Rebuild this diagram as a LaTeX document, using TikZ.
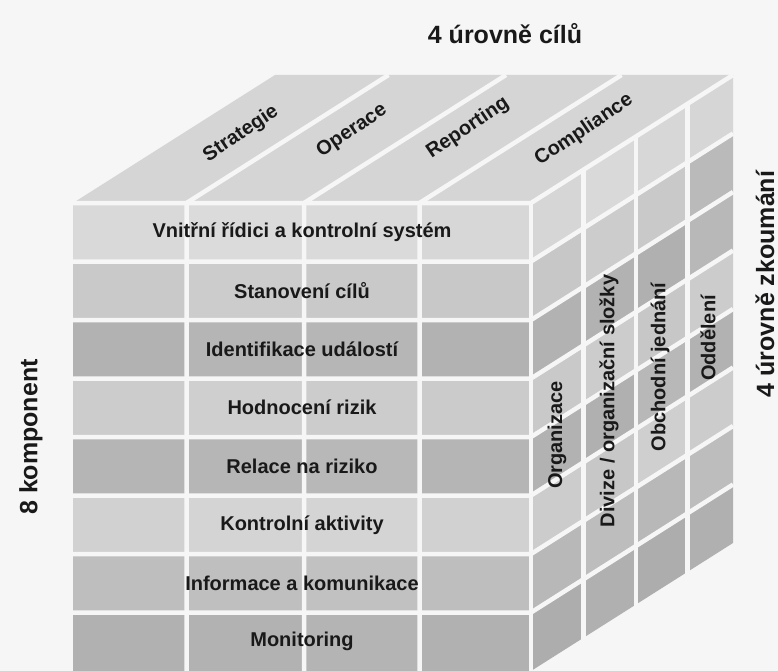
\documentclass[tikz,border=0pt]{standalone}
\usepackage{fontspec}
\setmainfont{Liberation Sans}
\definecolor{paper}{gray}{0.965}
\definecolor{topface}{gray}{0.835}
\definecolor{ink}{gray}{0.1}
\begin{document}
\begin{tikzpicture}[x=1pt,y=-1pt,
  gap/.style={draw=paper,line width=4.5pt},
  rowlabel/.style={text=ink,font=\bfseries\fontsize{20}{22}\selectfont,inner sep=0pt},
  sidelabel/.style={rowlabel,rotate=90},
  toplabel/.style={rowlabel,rotate=34},
  axislabel/.style={text=ink,font=\bfseries\fontsize{25}{28}\selectfont,inner sep=0pt}]
\useasboundingbox (0,0) rectangle (778,671);
\fill[paper] (0,0) rectangle (778,671);

% geometry: front face x-boundaries, row height, depth vector (202,-128)
\def\fx{{73,186.5,304,419.5,531}}
\def\dt{{0,0.26,0.52,0.775,1}}
\def\rh{58.5}

% top face
\fill[topface] (73,203) -- (531,203) -- (733,75) -- (275,75) -- cycle;

% front face cells
\foreach \row/\vals in {0/{.85,.86,.855,.845},1/{.79,.80,.79,.785},2/{.70,.71,.715,.70},3/{.80,.81,.80,.795},4/{.71,.715,.72,.71},5/{.82,.83,.83,.82},6/{.745,.75,.755,.745},7/{.695,.70,.705,.695}}{
  \foreach \g [count=\c from 0] in \vals {
    \pgfmathsetmacro\xa{\fx[\c]}
    \pgfmathsetmacro\xb{\fx[\c+1]}
    \pgfmathsetmacro\ya{203+\rh*\row}
    \pgfmathsetmacro\yb{203+\rh*(\row+1)}
    \definecolor{cellc}{gray}{\g}
    \fill[cellc] (\xa,\ya) rectangle (\xb,\yb);
  }
}

% right face cells
\foreach \row/\vals in {0/{.84,.85,.845,.84},1/{.78,.80,.79,.73},2/{.70,.70,.69,.72},3/{.79,.80,.78,.80},4/{.70,.69,.72,.70},5/{.80,.78,.81,.80},6/{.72,.74,.72,.74},7/{.68,.69,.68,.69}}{
  \foreach \g [count=\c from 0] in \vals {
    \pgfmathsetmacro\ta{\dt[\c]}
    \pgfmathsetmacro\tb{\dt[\c+1]}
    \pgfmathsetmacro\ya{203+\rh*\row}
    \pgfmathsetmacro\yb{203+\rh*(\row+1)}
    \definecolor{cellc}{gray}{\g}
    \fill[cellc] (531+202*\ta,\ya-128*\ta) -- (531+202*\tb,\ya-128*\tb)
      -- (531+202*\tb,\yb-128*\tb) -- (531+202*\ta,\yb-128*\ta) -- cycle;
  }
}

% white gaps between the cells
\foreach \k in {0,...,7}{
  \pgfmathsetmacro\yk{203+\rh*\k}
  \draw[gap] (73,\yk) -- (531,\yk) -- (733,\yk-128);
}
\foreach \x in {186.5,304,419.5}{
  \draw[gap] (\x+202,75) -- (\x,203) -- (\x,675);
}
\draw[gap] (531,203) -- (531,675);
\foreach \t in {0.26,0.52,0.775}{
  \draw[gap] (531+202*\t,203-128*\t) -- (531+202*\t,675-128*\t);
}

% components on the front face
\foreach \txt [count=\i from 0] in {Vnitřní řídici a kontrolní systém,Stanovení cílů,Identifikace událostí,Hodnocení rizik,Relace na riziko,Kontrolní aktivity,Informace a komunikace,Monitoring}{
  \node[rowlabel] (comp\i) at (302,{203+\rh*(\i+0.5)}) {\txt};
}

% objectives on the top face
\node[toplabel] (strategie)  at (241,134) {Strategie};
\node[toplabel] (operace)    at (352,131) {Operace};
\node[toplabel] (reporting)  at (468,128) {Reporting};
\node[toplabel] (compliance) at (584,130) {Compliance};

% levels on the right face
\node[sidelabel] (organizace) at (557,435) {Organizace};
\node[sidelabel] (divize)     at (609,401) {Divize / organizační složky};
\node[sidelabel] (obchod)     at (660,367) {Obchodní jednání};
\node[sidelabel] (oddeleni)   at (708,338) {Oddělení};

% axis captions
\node[axislabel] (cile) at (505,34) {4 úrovně cílů};
\node[axislabel,rotate=90] (komponenty) at (31,437) {8 komponent};
\node[axislabel,rotate=90] (zkoumani) at (765,284) {4 úrovně zkoumání};
\end{tikzpicture}
\end{document}
